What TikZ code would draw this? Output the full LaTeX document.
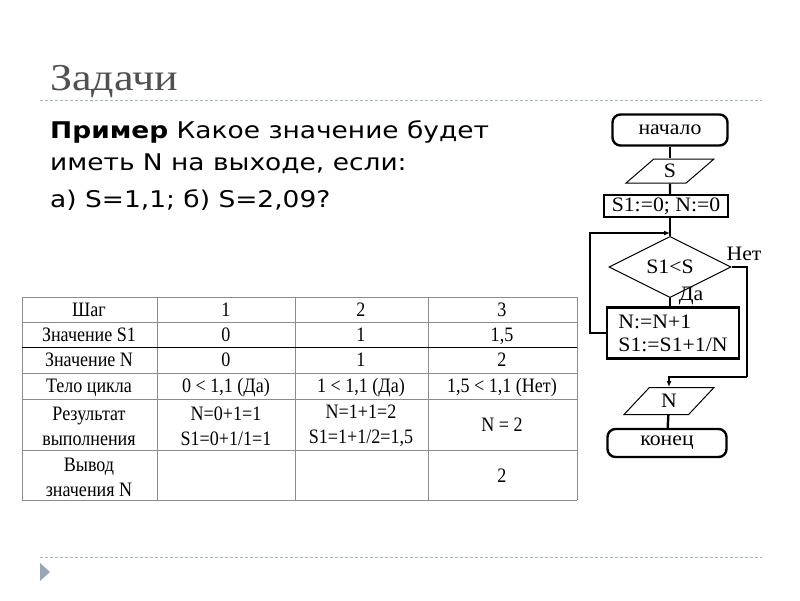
\documentclass[tikz,border=0pt]{standalone}
\usepackage{fontspec}
\setmainfont{Liberation Serif}
\newfontfamily\slidefont[FakeStretch=1.15]{DejaVu Sans}
\newfontfamily\headfont[FakeStretch=1.16]{Liberation Serif}
\newfontfamily\flowfont[FakeStretch=1.06]{Liberation Serif}
\newfontfamily\gridfont[FakeStretch=0.88]{Liberation Serif}
\usetikzlibrary{shapes.geometric,arrows.meta}
\definecolor{headgray}{HTML}{505050}
\definecolor{rulegray}{HTML}{A9B5BD}
\definecolor{bulletgray}{HTML}{98A6B6}
\definecolor{gridgray}{HTML}{8C8C8C}
\tikzset{
  txt/.style={anchor=base west,inner sep=0,font=\slidefont\fontsize{23}{25}\selectfont},
  twoline/.style={inner sep=0,align=center,font=\gridfont\fontsize{20.5}{25}\selectfont},
  cell/.style={twoline,text height=14pt,text depth=0.5pt},
  tline/.style={gridgray,line width=0.9pt},
  thick box/.style={draw,line width=2.4pt,inner sep=0,font=\flowfont\fontsize{20.5}{23}\selectfont},
  thin box/.style={draw,line width=1pt,inner sep=0,font=\flowfont\fontsize{20.5}{23}\selectfont},
  term/.style={thick box,rounded corners=8pt},
  io/.style={thin box,trapezium,trapezium left angle=53,trapezium right angle=127,trapezium stretches=true},
  conn/.style={line width=2.4pt},
  tip/.style={-{Latex[length=6pt,width=5pt]}}
}
\begin{document}
\begin{tikzpicture}[x=1pt,y=-1pt]
\useasboundingbox (0,0) rectangle (800,600);
\node[anchor=base west,inner sep=0,headgray,font=\headfont\fontsize{38}{40}\selectfont] (title) at (50,90) {Задачи};
\draw[rulegray,line width=0.8pt,dash pattern=on 3pt off 2pt] (40,100) -- (762,100);
\draw[rulegray,line width=0.8pt,dash pattern=on 3pt off 2pt] (40,557) -- (762,557);
\fill[bulletgray] (40,563) -- (50,572) -- (40,581) -- cycle;
\node[txt] (q1) at (50,138) {\textbf{Пример} Какое значение будет};
\node[txt] (q2) at (50,170) {иметь N на выходе, если:};
\node[txt] (q3) at (50,207) {а) S=1,1; б) S=2,09?};
\foreach \y in {297,322,347,373,399,450,500} \draw[tline] (22,\y) -- (577,\y);
\foreach \x in {22,157,295,428,577} \draw[tline] (\x,297) -- (\x,500);
\draw[line width=1pt] (22,347) -- (577,347);
\node[cell] (h0) at (89,310) {Шаг};
\node[cell] (h1) at (226,310) {1};
\node[cell] (h2) at (361,310) {2};
\node[cell] (h3) at (502,310) {3};
\node[cell] (s0) at (89,335) {Значение S1};
\node[cell] (s1) at (226,335) {0};
\node[cell] (s2) at (361,335) {1};
\node[cell] (s3) at (502,335) {1,5};
\node[cell] (n0) at (89,360) {Значение N};
\node[cell] (n1) at (226,360) {0};
\node[cell] (n2) at (361,360) {1};
\node[cell] (n3) at (502,360) {2};
\node[cell] (t0) at (89,386) {Тело цикла};
\node[cell] (t1) at (226,386) {0 < 1,1 (Да)};
\node[cell] (t2) at (361,386) {1 < 1,1 (Да)};
\node[cell] (t3) at (502,386) {1,5 < 1,1 (Нет)};
\node[twoline] (r0) at (89,426) {Результат\\выполнения};
\node[twoline] (r1) at (226,426) {N=0+1=1\\S1=0+1/1=1};
\node[twoline] (r2) at (361,426) {N=1+1=2\\S1=1+1/2=1,5};
\node[cell] (r3) at (502,425) {N = 2};
\node[twoline] (v0) at (89,477) {Вывод\\значения N};
\node[cell] (v3) at (502,476) {2};
\node[term,minimum width=115pt,minimum height=31pt] (start) at (670,130) {начало};
\node[io,minimum width=88pt,minimum height=24pt] (inS) at (670,171) {S};
\node[thick box,minimum width=124pt,minimum height=22pt] (init) at (666,206) {S1:=0; N:=0};
\coordinate (junc) at (670,233);
\coordinate (loop) at (590,233);
\node[thin box,diamond,minimum width=122pt,minimum height=43pt] (cond) at (670,267) {S1<S};
\node[thick box,minimum width=132pt,minimum height=51pt,align=left] (body) at (673,333) {N:=N+1\\S1:=S1+1/N};
\node[io,minimum width=90pt,minimum height=27pt] (outN) at (669,401) {N};
\node[term,minimum width=119pt,minimum height=28pt] (stop) at (667,443) {конец};
\node[font=\flowfont\fontsize{20.5}{23}\selectfont,inner sep=0] (no) at (744,254) {Нет};
\node[font=\flowfont\fontsize{20.5}{23}\selectfont,inner sep=0] (yes) at (691,296) {Да};
\coordinate (exitR) at (747,267);
\coordinate (exitB) at (747,377);
\draw[conn] (start) -- (inS);
\draw[conn] (inS) -- (inS |- init.north);
\draw[conn] (init.south -| junc) -- (cond.north);
\draw[conn,tip] (body.west) -| (loop) -- (junc);
\draw[conn] (cond.south) -- (cond.south |- body.north);
\draw[conn] (cond.east) -- (exitR) -- (exitB);
\draw[conn,tip] (exitB) -| (outN.north);
\draw[conn] (outN) -- (stop);
\end{tikzpicture}
\end{document}
